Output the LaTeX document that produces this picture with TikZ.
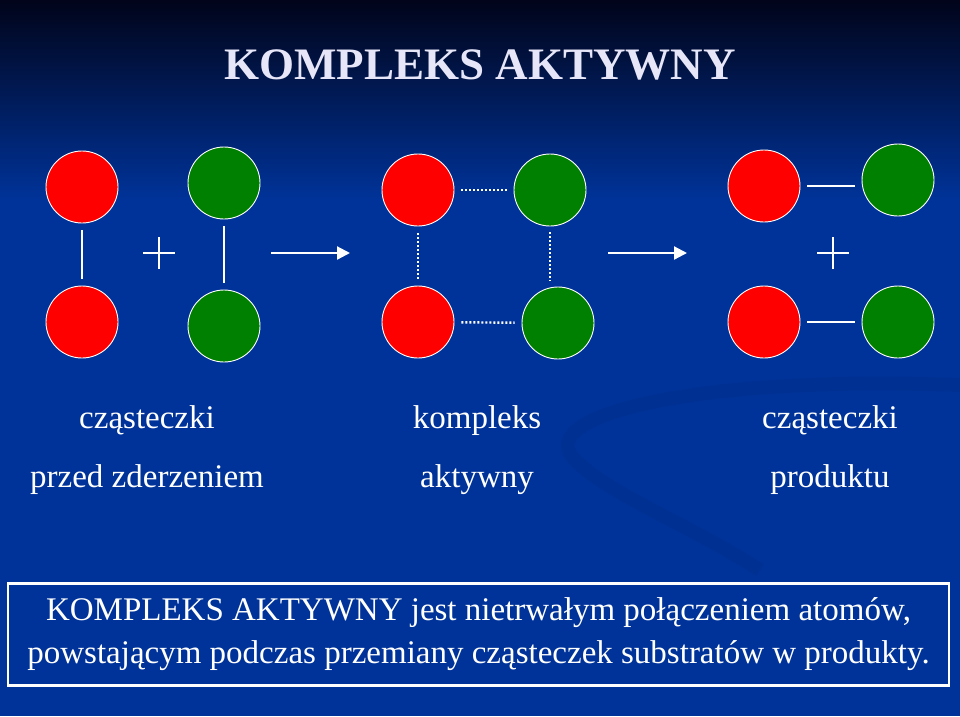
\documentclass[tikz,border=0pt]{standalone}
\usepackage{fontspec}
\setmainfont{Liberation Serif}
\usepackage{xcolor}
\usetikzlibrary{arrows.meta}

\definecolor{slideTop}{HTML}{01041A}
\definecolor{slideBlue}{HTML}{003399}
\definecolor{swooshBlue}{HTML}{00267A}
\definecolor{titleLav}{HTML}{E6E6F8}
\definecolor{atomRed}{HTML}{FF0000}
\definecolor{atomGreen}{HTML}{008000}

\begin{document}
\begin{tikzpicture}[
  x=1pt, y=-1pt,
  atomNode/.style={circle, draw=white, line width=0.9pt, minimum size=72pt, inner sep=0pt},
  redAtom/.style={atomNode, fill=atomRed},
  greenAtom/.style={atomNode, fill=atomGreen},
  bondLine/.style={draw=white, line width=2.2pt, shorten <=7pt, shorten >=7pt},
  weakBond/.style={bondLine, line width=2.4pt, dash pattern=on 2pt off 2pt},
  reactArrow/.style={draw=white, line width=2.2pt, -{Triangle[length=13pt, width=13pt]}},
  plusSign/.style={minimum size=32pt, inner sep=0pt, path picture={
      \draw[white, line width=1.6pt] (path picture bounding box.north) -- (path picture bounding box.south)
        (path picture bounding box.west) -- (path picture bounding box.east);}},
  labelText/.style={text=white, font=\fontsize{33}{40}\selectfont, anchor=base},
  noteBox/.style={draw=white, line width=2.5pt, minimum width=941pt, minimum height=102pt,
      text=white, align=center, font=\fontsize{33}{43}\selectfont}
]
  % background
  \useasboundingbox (0,0) rectangle (960,716);
  \shade[top color=slideTop, bottom color=slideBlue] (0,0) rectangle (960,200);
  \fill[slideBlue] (0,199) rectangle (960,716);
  \draw[swooshBlue, opacity=0.22, line width=14pt]
    (960,385) .. controls (700,375) and (530,415) .. (575,460) .. controls (610,495) and (690,525) .. (760,570);

  % title
  \node [text=titleLav, font=\fontsize{45}{54}\selectfont\bfseries, anchor=base] (title) at (480,79) {KOMPLEKS AKTYWNY};

  % substrates
  \node [redAtom] (r1) at (82,187) {};
  \node [redAtom] (r2) at (82,322) {};
  \node [greenAtom] (g1) at (224,183) {};
  \node [greenAtom] (g2) at (224,326) {};
  \draw [bondLine] (r1) -- (r2);
  \draw [bondLine] (g1) -- (g2);
  \node [plusSign] (plus1) at (159,253) {};

  \coordinate (arrowStart1) at (271,253);
  \coordinate (arrowEnd1) at (350,253);
  \draw [reactArrow] (arrowStart1) -- (arrowEnd1);

  % activated complex
  \node [redAtom] (rc1) at (418,190) {};
  \node [redAtom] (rc2) at (418,322) {};
  \node [greenAtom] (gc1) at (550,190) {};
  \node [greenAtom] (gc2) at (558,323) {};
  \draw [weakBond] (rc1) -- (gc1);
  \draw [weakBond] (rc2) -- (gc2);
  \draw [weakBond] (rc1) -- (rc2);
  \draw [weakBond, shorten <=6pt, shorten >=6pt] (gc1.south) -- (gc1.south |- gc2.north);

  \coordinate (arrowStart2) at (608,253);
  \coordinate (arrowEnd2) at (687,253);
  \draw [reactArrow] (arrowStart2) -- (arrowEnd2);

  % products
  \node [redAtom] (rp1) at (764,186) {};
  \node [redAtom] (rp2) at (764,322) {};
  \node [greenAtom] (gp1) at (898,180) {};
  \node [greenAtom] (gp2) at (898,322) {};
  \draw [bondLine] (rp1.east) -- (rp1.east -| gp1.west);
  \draw [bondLine] (rp2) -- (gp2);
  \node [plusSign] (plus2) at (833,253) {};

  % labels
  \node [labelText] (subTop) at (147,428) {cząsteczki};
  \node [labelText] (subBot) at (147,487) {przed zderzeniem};
  \node [labelText] (cxTop) at (477,428) {kompleks};
  \node [labelText] (cxBot) at (477,487) {aktywny};
  \node [labelText] (prTop) at (830,428) {cząsteczki};
  \node [labelText] (prBot) at (830,487) {produktu};

  % definition
  \node [noteBox] (note) at (478.5,634.5) {KOMPLEKS AKTYWNY jest nietrwałym połączeniem atomów,\\powstającym podczas przemiany cząsteczek substratów w produkty.};
\end{tikzpicture}
\end{document}
